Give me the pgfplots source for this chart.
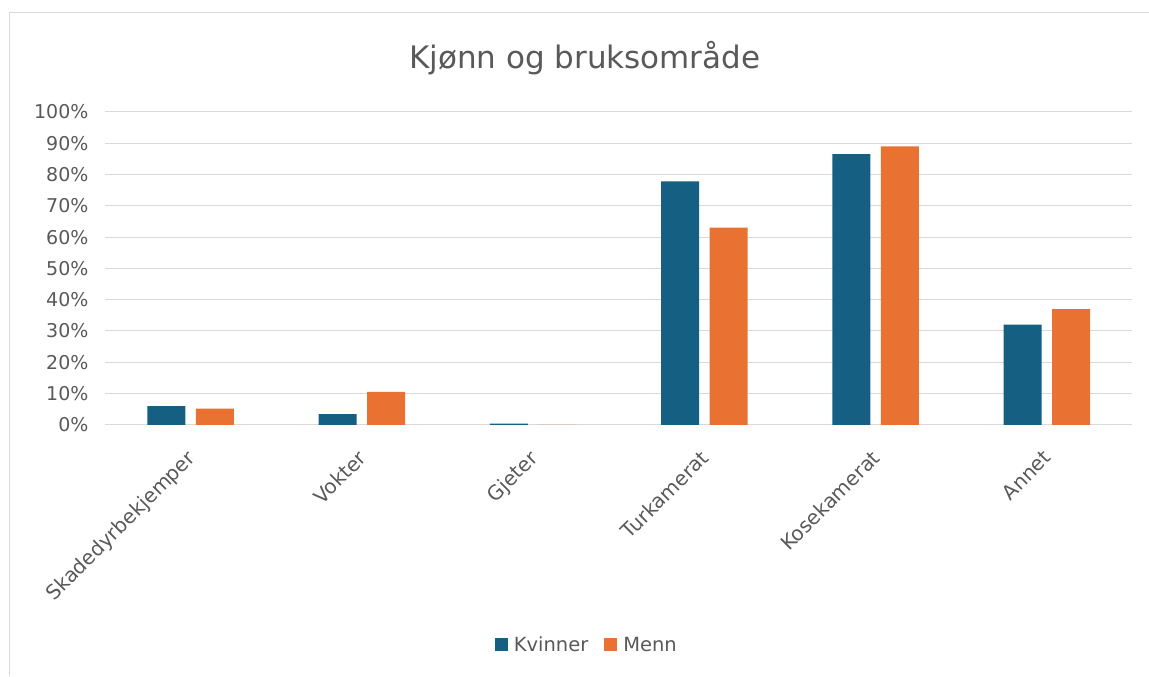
\documentclass[border=0pt]{standalone}
\usepackage{pgfplots}
\pgfplotsset{compat=1.18}
\usepackage{fontspec}
\setmainfont{DejaVu Sans}
\definecolor{kv}{HTML}{156082}
\definecolor{me}{HTML}{E97132}
\definecolor{gridc}{HTML}{D9D9D9}
\definecolor{txt}{HTML}{595959}
\begin{document}
\begin{tikzpicture}[x=1pt,y=1pt]
\path (0,0) rectangle (1149,676);
\draw[gridc, line width=1pt] (10,0) -- (10,663) -- (1149,663);
\node[text=txt, font=\fontsize{31}{36}\selectfont] at (585,618) {Kjønn og bruksområde};
\begin{axis}[
  at={(105pt,251pt)}, anchor=south west,
  scale only axis, width=1028pt, height=313pt,
  ybar, bar width=38pt,
  xmin=-0.5, xmax=5.5, ymin=0, ymax=100,
  xtick={0,1,2,3,4,5},
  xticklabels={Skadedyrbekjemper,Vokter,Gjeter,Turkamerat,Kosekamerat,Annet},
  ytick={0,10,...,100},
  yticklabel={\pgfmathprintnumber{\tick}\%},
  /pgf/number format/assume math mode=true,
  major tick length=0pt,
  ymajorgrids, grid style={gridc, line width=1pt},
  axis lines*=left,
  x axis line style={gridc, line width=1pt, -},
  y axis line style={draw=none},
  ticklabel style={text=txt, font=\fontsize{19}{22}\selectfont},
  yticklabel style={xshift=-13pt},
  tick style={draw=none},
  xticklabel style={rotate=45, anchor=north east, yshift=-10pt, xshift=-17pt, font=\fontsize{20}{22}\selectfont},
  legend style={at={(0.469,-0.703)}, anchor=center, draw=none, legend columns=2,
    font=\fontsize{19.5}{22}\selectfont, text=txt,
    /tikz/every even column/.append style={column sep=14pt}},
  legend image code/.code={\fill[#1] (0pt,-6.5pt) rectangle (13pt,6.5pt);},
  legend style={/tikz/every odd column/.append style={column sep=4pt}},
]
\addplot[fill=kv, draw=none, bar shift=-24.3pt] coordinates {(0,6.0) (1,3.4) (2,0.4) (3,77.8) (4,86.5) (5,32.0)};
\addplot[fill=me, draw=none, bar shift=24.3pt] coordinates {(0,5.2) (1,10.5) (2,0) (3,63.0) (4,89.0) (5,37.0)};
\legend{Kvinner, Menn}
\end{axis}
\end{tikzpicture}
\end{document}
